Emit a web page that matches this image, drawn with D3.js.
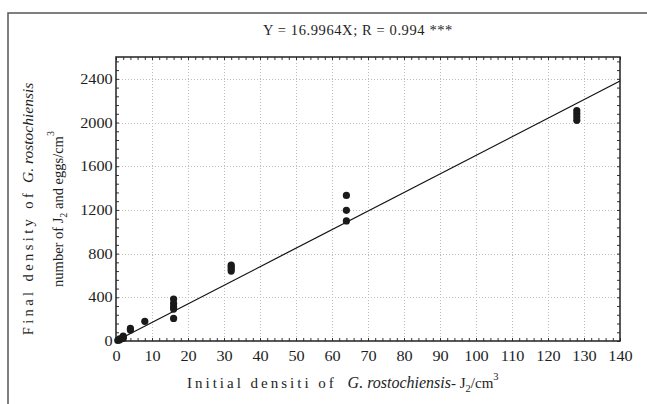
<!DOCTYPE html>
<html><head><meta charset="utf-8">
<script src="https://cdn.jsdelivr.net/npm/d3@7"></script>
<style>
body{margin:0;background:#fff}
text{font-family:"Liberation Serif","Times New Roman",serif;fill:#1e1e1e}
</style>
</head><body>
<svg id="chart" width="647" height="404"></svg>
<script>
// Axis tick values
const xTicks = [0,10,20,30,40,50,60,70,80,90,100,110,120,130,140];
const yTicks = [0,400,800,1200,1600,2000,2400];

// Initial density (J2/cm3) and final density (J2 + eggs/cm3) for each sample
const initialDensity = [0.5,1,1,2,2,2,4,4,8,16,16,16,16,16,32,32,32,32,64,64,64,128,128,128,128];
const finalDensity   = [5,10,20,25,35,45,100,115,180,384,344,313,292,207,695,680,660,640,1333,1196,1099,2110,2080,2050,2020];

// Fitted regression through the origin
const slope = 16.9964;
const fitRange = [0, 140];
const titleText = "Y = 16.9964X; R = 0.994 ***";

const svg = d3.select("#chart");
const plot = {left:116, right:620, top:57, bottom:341};
const serif = '"Liberation Serif","Times New Roman",serif';

const x = d3.scaleLinear().domain([0,140]).range([plot.left, plot.right]);
const y = d3.scaleLinear().domain([0,2600]).range([plot.bottom, plot.top]);

// outer frame (left and top edges)
svg.append("path")
  .attr("d", `M8,404 V13 H647`)
  .attr("fill","none").attr("stroke","#555").attr("stroke-width",1.5);

// title
svg.append("text").attr("x",358).attr("y",35).attr("text-anchor","middle")
  .style("font-size","14.5px").style("letter-spacing","0.6px").text(titleText);

// dotted grid
const grid = svg.append("g").attr("stroke","#bcbcbc").attr("stroke-width",1).attr("stroke-dasharray","1,2");
grid.selectAll("line.gx").data(xTicks.slice(1,-1)).join("line")
  .attr("x1",d=>Math.round(x(d))+0.5).attr("x2",d=>Math.round(x(d))+0.5)
  .attr("y1",plot.top).attr("y2",plot.bottom);
grid.selectAll("line.gy").data(yTicks.slice(1)).join("line")
  .attr("y1",d=>Math.round(y(d))+0.5).attr("y2",d=>Math.round(y(d))+0.5)
  .attr("x1",plot.left).attr("x2",plot.right);

// inward-pointing ticks on all four sides
const xMinor = d3.range(0,141,2);
const yMinor = d3.range(0,2601,80);
const tickCol = "#333";
function axisTicks(axisGen, transform, vals, size){
  svg.append("g").attr("transform",transform)
    .call(axisGen.tickValues(vals).tickSize(size).tickFormat(""))
    .call(g=>g.select(".domain").remove())
    .call(g=>g.selectAll("line").attr("stroke",tickCol));
}
axisTicks(d3.axisTop(x), `translate(0,${plot.bottom})`, xMinor, 3);
axisTicks(d3.axisBottom(x), `translate(0,${plot.top})`, xMinor, 3);
axisTicks(d3.axisRight(y), `translate(${plot.left},0)`, yMinor, 3);
axisTicks(d3.axisLeft(y), `translate(${plot.right},0)`, yMinor, 3);

// tick labels, slightly widened serif digits
function styleLabels(g){
  g.attr("font-family",null).attr("font-size",null);
  g.select(".domain").remove();
  g.selectAll("text").attr("font-family",serif).attr("font-size","14.5px")
    .attr("fill","#1e1e1e").attr("transform","scale(1.12,1)");
}
svg.append("g").attr("transform",`translate(0,${plot.bottom})`)
  .call(d3.axisBottom(x).tickValues(xTicks).tickSize(0).tickPadding(10).tickFormat(d3.format("d")))
  .call(styleLabels);
svg.append("g").attr("transform",`translate(${plot.left},0)`)
  .call(d3.axisLeft(y).tickValues(yTicks).tickSize(0).tickPadding(3).tickFormat(d3.format("d")))
  .call(styleLabels);

// plot frame
svg.append("rect").attr("x",plot.left).attr("y",plot.top)
  .attr("width",plot.right-plot.left).attr("height",plot.bottom-plot.top)
  .attr("fill","none").attr("stroke","#222").attr("stroke-width",1.5);

// regression line
svg.append("line")
  .attr("x1",x(fitRange[0])).attr("y1",y(slope*fitRange[0]))
  .attr("x2",x(fitRange[1])).attr("y2",y(slope*fitRange[1]))
  .attr("stroke","#111").attr("stroke-width",1.2);

// observations
svg.append("g").selectAll("circle").data(initialDensity.map((d,i)=>[d,finalDensity[i]])).join("circle")
  .attr("cx",d=>x(d[0])).attr("cy",d=>y(d[1])).attr("r",3.6).attr("fill","#1a1a1a");

// x axis title
const xt = svg.append("text").attr("x",187).attr("y",388).attr("text-anchor","start").style("font-size","15px");
xt.append("tspan").style("letter-spacing","3px").text("Initial densiti of ");
xt.append("tspan").attr("dx",4).style("font-style","italic").style("font-size","16px").text("G. rostochiensis");
xt.append("tspan").text("- J");
xt.append("tspan").attr("dy",4).style("font-size","10.5px").text("2");
xt.append("tspan").attr("dy",-4).text("/cm");
xt.append("tspan").attr("dy",-8).style("font-size","10.5px").text("3");

// y axis title (two lines)
const yt1 = svg.append("text").attr("transform","translate(33,209) rotate(-90)").attr("text-anchor","middle").style("font-size","14.5px");
yt1.append("tspan").style("letter-spacing","3.4px").text("Final density of ");
yt1.append("tspan").style("font-style","italic").style("font-size","15.5px").text("G. rostochiensis");

const yt2 = svg.append("text").attr("transform","translate(63,209) rotate(-90)").attr("text-anchor","middle").style("font-size","14.5px");
yt2.append("tspan").text("number of J");
yt2.append("tspan").attr("dy",4).style("font-size","10px").text("2");
yt2.append("tspan").attr("dy",-4).text(" and eggs/cm");
yt2.append("tspan").attr("dy",-9).style("font-size","10px").text("3");
</script>
</body></html>
